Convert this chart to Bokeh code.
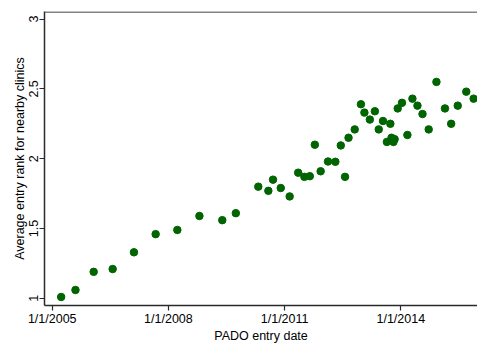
from bokeh.plotting import figure
from bokeh.models import Range1d, FixedTicker, Span
from bokeh.embed import file_html
from bokeh.resources import INLINE

# PADO entry date (decimal year) and average entry rank for nearby clinics
entry_year = [2005.23, 2005.60, 2006.07, 2006.56, 2007.11, 2007.67, 2008.23, 2008.80,
              2009.39, 2009.74, 2010.32, 2010.58, 2010.70, 2010.90, 2011.13, 2011.35,
              2011.51, 2011.65, 2011.78, 2011.93, 2012.12, 2012.31, 2012.45, 2012.56,
              2012.65, 2012.81, 2012.97, 2013.06, 2013.20, 2013.33, 2013.43, 2013.54,
              2013.64, 2013.73, 2013.76, 2013.81, 2013.84, 2013.92, 2014.03, 2014.17,
              2014.30, 2014.43, 2014.56, 2014.72, 2014.92, 2015.14, 2015.30, 2015.47,
              2015.69, 2015.88]
avg_rank = [1.01, 1.06, 1.19, 1.21, 1.33, 1.46, 1.49, 1.59,
            1.56, 1.61, 1.80, 1.77, 1.85, 1.79, 1.73, 1.90,
            1.87, 1.875, 2.10, 1.91, 1.98, 1.978, 2.095, 1.87,
            2.15, 2.21, 2.39, 2.33, 2.28, 2.34, 2.21, 2.27,
            2.12, 2.25, 2.15, 2.12, 2.14, 2.36, 2.40, 2.17,
            2.43, 2.38, 2.32, 2.21, 2.55, 2.36, 2.25, 2.38,
            2.48, 2.43]

x_ticks = [2005, 2008, 2011, 2014]
x_tick_labels = ["1/1/2005", "1/1/2008", "1/1/2011", "1/1/2014"]
y_ticks = [1, 1.5, 2, 2.5, 3]
y_tick_labels = ["1", "1.5", "2", "2.5", "3"]

FONT = "Liberation Sans"

p = figure(width=477, height=345, output_backend="svg", toolbar_location=None,
           x_range=Range1d(2004.80, 2015.98), y_range=Range1d(0.949, 3.054),
           min_border_left=44, min_border_right=0, min_border_top=11, min_border_bottom=34)
p.outline_line_color = None
p.background_fill_color = "white"
p.border_fill_color = "white"
p.xgrid.grid_line_color = None
p.ygrid.grid_line_color = None

p.scatter(entry_year, avg_rank, size=7.5, fill_color="#006400", line_color="#006400")

top = Span(location=3.050, dimension="width", line_color="#5a5a5a", line_width=1.5)
p.add_layout(top)

for ax in (p.xaxis[0], p.yaxis[0]):
    ax.axis_line_color = "#2a2a2a"
    ax.axis_line_width = 1.5
    ax.major_tick_line_color = "#2a2a2a"
    ax.major_tick_line_width = 1.2
    ax.major_tick_out = 5
    ax.major_tick_in = 0
    ax.minor_tick_line_color = None
    ax.major_label_text_font = FONT
    ax.major_label_text_font_size = "12.5px"
    ax.major_label_text_color = "black"
    ax.axis_label_text_font = FONT
    ax.axis_label_text_font_size = "12.5px"
    ax.axis_label_text_font_style = "normal"
    ax.axis_label_text_color = "black"

p.xaxis.ticker = FixedTicker(ticks=x_ticks)
p.xaxis.major_label_overrides = dict(zip(x_ticks, x_tick_labels))
p.xaxis.axis_label = "PADO entry date"
p.xaxis.major_label_standoff = 1
p.xaxis.axis_label_standoff = 0

p.yaxis.ticker = FixedTicker(ticks=y_ticks)
p.yaxis.major_label_overrides = dict(zip(y_ticks, y_tick_labels))
p.yaxis.major_label_orientation = "vertical"
p.yaxis.axis_label = "Average entry rank for nearby clinics"
p.yaxis.major_label_standoff = 1
p.yaxis.axis_label_standoff = 0

open("out.html", "w").write(file_html(p, INLINE))
